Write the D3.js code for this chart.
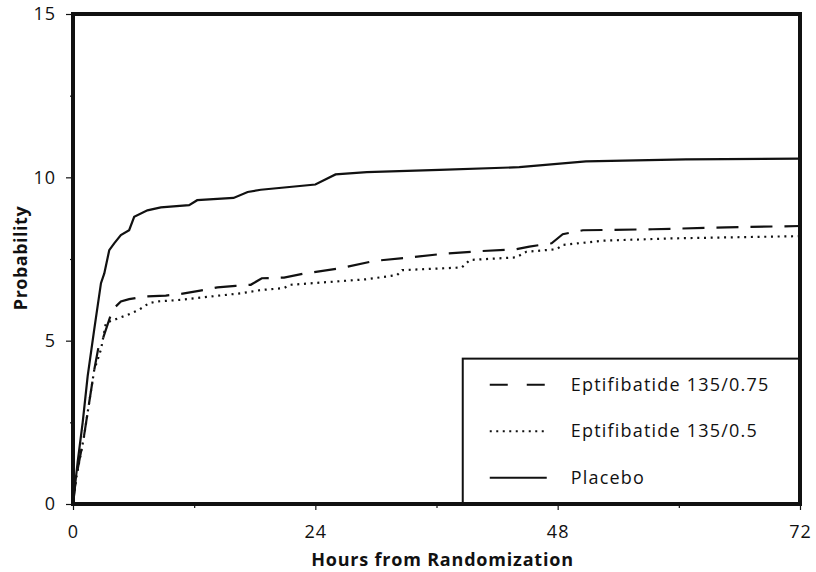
<!DOCTYPE html>
<html>
<head>
<meta charset="utf-8">
<script src="https://cdn.jsdelivr.net/npm/d3@7"></script>
<style>
  body { margin: 0; background: #fff; }
  text { font-family: "Open Sans", Lato, sans-serif; fill: #111; }
</style>
</head>
<body>
<script>
// hours from randomization / cumulative probability (%)
var placeboHours = [0, 0.46, 0.96, 1.45, 2.1, 2.77, 3.1, 3.59, 4.08, 4.74, 5.56, 6.06, 7.37, 8.7, 11.5, 12.3, 15.9, 17.3, 18.6, 24.0, 26.0, 29.1, 36.3, 44.2, 50.8, 60.7, 72];
var placeboProb  = [0, 1.28, 2.5, 3.91, 5.34, 6.76, 7.06, 7.77, 7.98, 8.23, 8.38, 8.79, 8.99, 9.08, 9.15, 9.30, 9.37, 9.55, 9.62, 9.78, 10.09, 10.16, 10.23, 10.31, 10.49, 10.55, 10.57];

var dashHours = [0, 0.3, 1.1, 1.6, 2.1, 2.6, 3.0, 3.92, 4.74, 5.56, 7.04, 9.19, 10.67, 12.6, 14.3, 16.1, 17.6, 18.7, 20.9, 23.0, 26.5, 29.8, 33.4, 37.0, 40.3, 43.9, 45.2, 47.4, 48.5, 50.5, 57.4, 64.7, 72];
var dashProb  = [0, 0.8, 2.1, 3.1, 4.1, 4.93, 5.1, 5.95, 6.2, 6.27, 6.35, 6.38, 6.43, 6.53, 6.63, 6.68, 6.71, 6.91, 6.93, 7.06, 7.22, 7.44, 7.55, 7.67, 7.74, 7.8, 7.88, 7.98, 8.26, 8.38, 8.41, 8.47, 8.51];

var dotHours = [0, 0.3, 1.1, 1.6, 2.1, 2.77, 3.26, 4.08, 5.4, 6.55, 7.54, 8.36, 10.67, 13.6, 16.6, 18.6, 20.9, 21.5, 29.1, 32.1, 32.6, 38.5, 39.3, 43.9, 44.9, 47.9, 48.5, 52.5, 59.1, 72];
var dotProb  = [0, 0.76, 2.08, 3.1, 4.1, 4.73, 5.54, 5.64, 5.79, 5.95, 6.15, 6.2, 6.25, 6.35, 6.45, 6.55, 6.61, 6.71, 6.88, 7.01, 7.16, 7.24, 7.47, 7.55, 7.72, 7.8, 7.93, 8.06, 8.13, 8.2];

var seriesNames = ["Eptifibatide 135/0.75", "Eptifibatide 135/0.5", "Placebo"];
var xTicks = [0, 24, 48, 72], xMinor = [12, 36, 60];
var yTicks = [0, 5, 10, 15], yMinor = [2.5, 7.5, 12.5];

var margin = {top: 14, right: 16, bottom: 68, left: 73},
    width = 816 - margin.left - margin.right,
    height = 572 - margin.top - margin.bottom;

var svg = d3.select("body").append("svg")
    .attr("width", 816)
    .attr("height", 572)
  .append("g")
    .attr("transform", "translate(" + margin.left + "," + margin.top + ")");

var x = d3.scaleLinear().domain([0, 72]).range([0, width]);
var y = d3.scaleLinear().domain([0, 15]).range([height, 0]);

function toPoints(hs, ps) { return hs.map(function(h, i) { return [h, ps[i]]; }); }

var series = [
  {name: seriesNames[0], pts: toPoints(dashHours, dashProb), dash: "22,12", legendDash: "18,19"},
  {name: seriesNames[1], pts: toPoints(dotHours, dotProb), dash: "2,4.7", legendDash: "2,4.5"},
  {name: seriesNames[2], pts: toPoints(placeboHours, placeboProb), dash: null, legendDash: null}
];

var line = d3.line()
    .x(function(d) { return x(d[0]); })
    .y(function(d) { return y(d[1]); });

// curves
svg.selectAll(".curve")
    .data(series)
  .enter().append("path")
    .attr("class", "curve")
    .attr("d", function(d) { return line(d.pts); })
    .attr("fill", "none")
    .attr("stroke", "#111")
    .attr("stroke-width", 2.2)
    .attr("stroke-dasharray", function(d) { return d.dash; });

// axes
svg.append("g")
    .call(d3.axisLeft(y).tickValues(yTicks).tickSize(7).tickPadding(10).tickFormat(d3.format("d")));
svg.append("g").call(d3.axisLeft(y).tickValues(yMinor).tickSize(3).tickFormat(""));
svg.append("g")
    .attr("transform", "translate(0," + height + ")")
    .call(d3.axisBottom(x).tickValues(xTicks).tickSize(6).tickPadding(15));
svg.append("g")
    .attr("transform", "translate(0," + height + ")")
    .call(d3.axisBottom(x).tickValues(xMinor).tickSize(4).tickFormat(""));

svg.selectAll(".domain").remove();
svg.selectAll(".tick line").attr("stroke", "#111").attr("stroke-width", 1.2);
svg.selectAll(".tick text").style("font-size", "18px").style("letter-spacing", "1px");

// legend box
var legX = x(38.6), legY = y(4.45);
var legend = svg.append("g");
legend.append("rect")
    .attr("x", legX)
    .attr("y", legY)
    .attr("width", width - legX)
    .attr("height", height - legY)
    .attr("fill", "#fff")
    .attr("stroke", "#111")
    .attr("stroke-width", 2);

var rows = legend.selectAll(".row")
    .data(series)
  .enter().append("g")
    .attr("transform", function(d, i) { return "translate(" + (legX + 27) + "," + (legY + 26 + i * 46.5) + ")"; });
rows.append("line")
    .attr("x1", 0).attr("x2", 57)
    .attr("stroke", "#111")
    .attr("stroke-width", 2)
    .attr("stroke-dasharray", function(d) { return d.legendDash; });
rows.append("text")
    .attr("x", 81)
    .attr("dy", "0.35em")
    .style("font-size", "18px")
    .style("letter-spacing", "1.2px")
    .text(function(d) { return d.name; });

// frame
svg.append("rect")
    .attr("width", width)
    .attr("height", height)
    .attr("fill", "none")
    .attr("stroke", "#111")
    .attr("stroke-width", 4);

// axis titles
svg.append("text")
    .attr("x", width / 2 + 6)
    .attr("y", height + 62)
    .attr("text-anchor", "middle")
    .style("font-size", "18px")
    .style("font-weight", "bold")
    .style("letter-spacing", "0.8px")
    .text("Hours from Randomization");

svg.append("text")
    .attr("transform", "translate(" + (-46) + "," + 244 + ") rotate(-90)")
    .attr("text-anchor", "middle")
    .style("font-size", "18px")
    .style("font-weight", "bold")
    .style("letter-spacing", "0.5px")
    .text("Probability");
</script>
</body>
</html>
